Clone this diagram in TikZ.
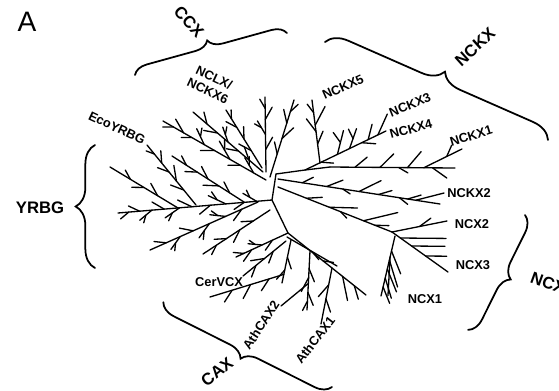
\documentclass[tikz,border=0pt]{standalone}
\usepackage{fontspec}
\setmainfont{Liberation Sans}
\usetikzlibrary{calc,decorations.pathreplacing}

% side twigs along a stem: position/angle/length
\newcommand{\twigs}[3]{%
  \foreach \pos/\ang/\len in {#3}
    \draw ($(#1)!\pos!(#2)$) -- ($(#1)!\pos!(#2)!\len!\ang:(#2)$);
}
% same, but every twig forks once more
\newcommand{\bush}[3]{%
  \foreach \pos/\ang/\len in {#3}{
    \coordinate (tw0) at ($(#1)!\pos!(#2)$);
    \coordinate (tw1) at ($(tw0)!\len!\ang:(#2)$);
    \draw (tw0) -- (tw1);
    \draw ($(tw0)!0.5!(tw1)$) -- ($(tw0)!0.5!(tw1)!{0.5*\len}!\ang:(tw1)$);
  }
}

\begin{document}
\begin{tikzpicture}[x=0.02cm,y=-0.02cm,line width=0.75pt,line cap=round,
  leaf/.style={font=\fontsize{7.3}{8.5}\selectfont\bfseries,inner sep=0pt},
  group/.style={font=\fontsize{9.5}{10}\selectfont\bfseries,inner sep=0pt},
  clade/.style={decorate,decoration={brace,amplitude=#1},line width=1pt}]
\useasboundingbox (0,0) rectangle (559,390);

% panel letter
\node[font=\fontsize{16}{16}\selectfont] (panel) at (27,22) {A};

% backbone
\coordinate (hubN) at (276,174);
\coordinate (hubW) at (272,200);
\coordinate (hubS) at (288,233);
\draw (hubN) -- (hubW) -- (hubS);

% YRBG clade
\coordinate (yEnd) at (118,213);
\draw (hubW) -- (yEnd);
\bush{hubW}{yEnd}{0.1/-35/9pt, 0.3/-30/11pt, 0.6/30/10pt, 0.78/35/9pt}
\twigs{hubW}{yEnd}{0.18/30/7pt, 0.4/35/8pt, 0.52/-30/9pt, 0.7/-35/8pt, 0.86/-30/7pt, 0.93/35/6pt}
\coordinate (yEco1) at (196,205); \coordinate (yEco2) at (147,145);
\draw (yEco1) -- (yEco2);
\twigs{yEco1}{yEco2}{0.25/30/8pt, 0.4/-30/9pt, 0.55/30/7pt, 0.7/-35/7pt, 0.85/30/5pt}
\coordinate (yMid1) at (244,202); \coordinate (yMid2) at (172,156);
\draw (yMid1) -- (yMid2);
\twigs{yMid1}{yMid2}{0.2/-30/7pt, 0.35/30/9pt, 0.5/-30/8pt, 0.65/30/7pt, 0.8/-30/6pt}
\coordinate (yUp1) at (178,208); \coordinate (yUp2) at (110,167);
\draw (yUp1) -- (yUp2);
\twigs{yUp1}{yUp2}{0.3/-30/8pt, 0.5/30/7pt, 0.7/-30/6pt}
\coordinate (yLow1) at (258,202); \coordinate (yLow2) at (150,250);
\draw (yLow1) -- (yLow2);
\bush{yLow1}{yLow2}{0.3/-30/9pt, 0.45/30/10pt, 0.72/30/9pt}
\twigs{yLow1}{yLow2}{0.15/30/8pt, 0.6/-35/8pt, 0.85/-30/7pt}
\coordinate (yBot1) at (270,210); \coordinate (yBot2) at (203,254);
\draw (yBot1) -- (yBot2);
\twigs{yBot1}{yBot2}{0.25/-30/7pt, 0.45/30/8pt, 0.65/-30/7pt, 0.8/30/6pt}

% CCX clade
\coordinate (cA1) at (266,180); \coordinate (cA2) at (163,121);
\draw (cA1) -- (cA2);
\bush{cA1}{cA2}{0.12/-30/10pt, 0.35/-30/12pt, 0.6/-35/10pt}
\twigs{cA1}{cA2}{0.25/30/7pt, 0.5/30/8pt, 0.72/30/6pt, 0.8/-30/9pt, 0.9/30/6pt}
\coordinate (cB1) at (263,172); \coordinate (cB2) at (193,112);
\draw (cB1) -- (cB2);
\bush{cB1}{cB2}{0.5/-30/9pt}
\twigs{cB1}{cB2}{0.2/-30/8pt, 0.35/30/7pt, 0.65/30/8pt, 0.8/-35/7pt}
\coordinate (cC1) at (262,168); \coordinate (cC2) at (226,110);
\draw (cC1) -- (cC2);
\twigs{cC1}{cC2}{0.3/30/8pt, 0.5/-30/7pt, 0.7/30/7pt, 0.85/-30/5pt}
\coordinate (cD1) at (266,172); \coordinate (cD2) at (265,97);
\draw (cD1) -- (cD2);
\bush{cD1}{cD2}{0.5/30/9pt}
\twigs{cD1}{cD2}{0.3/-30/8pt, 0.7/-30/8pt, 0.85/30/6pt}
\coordinate (cE1) at (270,177); \coordinate (cE2) at (294,100);
\draw (cE1) -- (cE2);
\twigs{cE1}{cE2}{0.3/30/7pt, 0.5/-30/9pt, 0.7/30/8pt, 0.85/-30/6pt}

% NCKX clade
\coordinate (kA) at (305,170);
\coordinate (kB) at (330,167);
\draw (hubN) -- (kA) -- (kB);
\coordinate (kTop) at (386,131);
\draw (kA) -- (kTop);
\bush{kA}{kTop}{0.4/50/14pt, 0.55/45/12pt}
\twigs{kA}{kTop}{0.2/-30/7pt, 0.7/-30/8pt, 0.78/50/9pt, 0.9/40/13pt}
\coordinate (k5a) at (320,163); \coordinate (k5b) at (312,100);
\draw (k5a) -- (k5b);
\twigs{k5a}{k5b}{0.3/-30/8pt, 0.5/30/9pt, 0.6/-35/12pt, 0.8/30/6pt}
\coordinate (kOne) at (455,168);
\draw (kB) -- (kOne);
\twigs{kB}{kOne}{0.2/40/9pt, 0.4/45/11pt, 0.55/-30/6pt, 0.62/50/12pt, 0.82/-35/10pt}
\coordinate (k1a) at ($(kB)!0.75!(kOne)$); \coordinate (k1b) at (462,149);
\draw (k1a) -- (k1b);
\twigs{k1a}{k1b}{0.6/40/7pt}
\coordinate (k2a) at (278,179); \coordinate (k2b) at (440,204);
\draw (k2a) -- (k2b);
\twigs{k2a}{k2b}{0.15/35/7pt, 0.3/30/10pt, 0.4/-25/5pt, 0.5/35/14pt, 0.62/25/8pt,
  0.75/-30/6pt, 0.8/25/8pt}
\coordinate (k2c) at ($(k2a)!0.85!(k2b)$); \coordinate (k2d) at (444,193);
\draw (k2c) -- (k2d);

% NCX clade
\coordinate (xA) at (278,187);
\coordinate (xB) at (392,232);
\draw (xA) -- (xB);
\twigs{xA}{xB}{0.25/25/9pt, 0.45/20/16pt, 0.55/-25/5pt, 0.75/35/20pt, 0.85/20/8pt}
\coordinate (x2) at (447,221);
\draw (xB) -- (x2);
\twigs{xB}{x2}{0.5/25/8pt}
\coordinate (x3) at (448,272);
\draw (xB) -- (x3);
\twigs{xB}{x3}{0.15/35/26pt, 0.35/35/19pt, 0.6/35/12pt}
\coordinate (x1a) at (395,236); \coordinate (x1b) at (381,296);
\draw (x1a) -- (x1b);
\twigs{x1a}{x1b}{0.25/35/14pt, 0.4/30/16pt, 0.55/35/14pt, 0.7/30/12pt, 0.85/35/10pt, 0.35/10/22pt}

% CAX clade
\coordinate (aA) at (366,295);
\draw (hubS) -- (aA);
\twigs{hubS}{aA}{0.45/30/6pt, 0.7/-40/14pt, 0.85/-35/8pt}
\coordinate (aC1) at (310,251); \coordinate (aC2) at (307,310);
\draw (aC1) -- (aC2);
\twigs{aC1}{aC2}{0.3/25/8pt, 0.45/-25/9pt, 0.7/25/8pt, 0.85/-25/6pt}
\coordinate (cax2) at (281,306);
\draw ($(aC1)!0.55!(aC2)$) -- (cax2);
\coordinate (aX1) at (332,268); \coordinate (aX2) at (321,324);
\draw (aX1) -- (aX2);
\twigs{aX1}{aX2}{0.3/-30/9pt, 0.55/30/8pt}
\coordinate (aB1) at (287,237); \coordinate (aB2) at (337,266);
\draw (aB1) -- (aB2);
\twigs{aB1}{aB2}{0.5/-20/6pt}
\coordinate (aL1) at (236,257);
\draw (hubS) -- (aL1);
\bush{hubS}{aL1}{0.5/-30/8pt}
\twigs{hubS}{aL1}{0.3/30/7pt, 0.7/30/8pt, 0.85/-30/6pt}
\coordinate (aM1) at (286,241); \coordinate (aM2) at (243,276);
\draw (aM1) -- (aM2);
\twigs{aM1}{aM2}{0.3/30/7pt, 0.5/-30/8pt, 0.7/30/7pt}
\coordinate (aV1) at (291,240); \coordinate (aV2) at (282,283);
\draw (aV1) -- (aV2);
\twigs{aV1}{aV2}{0.4/30/7pt, 0.7/-30/7pt}
\coordinate (cer1) at ($(aV1)!0.8!(aV2)$); \coordinate (cer2) at (210,297);
\draw (cer1) -- (cer2);
\twigs{cer1}{cer2}{0.2/40/8pt, 0.45/45/9pt, 0.7/40/8pt}

% leaf labels
\node[leaf,rotate=-25] (lEco) at (117,128) {EcoYRBG};
\node[leaf,rotate=-25,align=center] (lNclx) at (211,84) {NCLX/\\NCKX6};
\node[leaf,rotate=24] (lK5) at (343,87) {NCKX5};
\node[leaf,rotate=22] (lK3) at (410,105) {NCKX3};
\node[leaf,rotate=15] (lK4) at (411,129) {NCKX4};
\node[leaf,rotate=17] (lK1) at (471,136) {NCKX1};
\node[leaf] (lK2) at (469,193) {NCKX2};
\node[leaf] (lX2) at (472,224) {NCX2};
\node[leaf] (lX3) at (473,265) {NCX3};
\node[leaf] (lX1) at (425,299) {NCX1};
\node[leaf] (lCer) at (219,282) {CerVCX};
\node[leaf,rotate=57] (lCax2) at (261,325) {AthCAX2};
\node[leaf,rotate=52] (lCax1) at (315,340) {AthCAX1};

% family braces
\draw[clade=8pt] (135,75) -- (287,33);
\draw[clade=12pt] (325,42) -- (548,140);
\draw[clade=11pt] (95,268) -- (95,145);
\draw[clade=9pt] (525,215) -- (468,330);
\draw[clade=9pt] (332,387) -- (163,302);
\node[group,rotate=-48] (gCcx) at (189,22) {CCX};
\node[group,rotate=42] (gNckx) at (475,47) {NCKX};
\node[group] (gYrbg) at (40,208) {YRBG};
\node[group,rotate=-20] (gNcx) at (548,283) {NCX};
\node[group,rotate=38] (gCax) at (217,372) {CAX};
\end{tikzpicture}
\end{document}
